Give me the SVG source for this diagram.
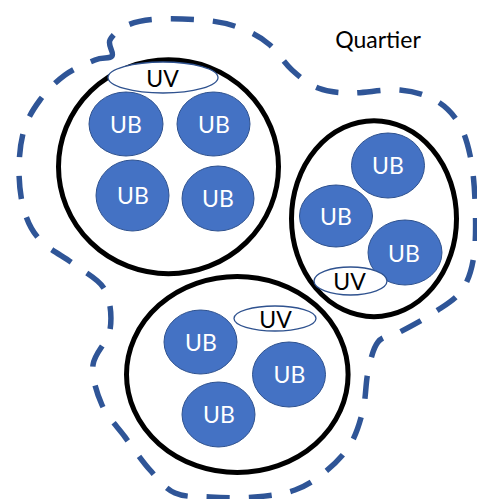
<svg xmlns="http://www.w3.org/2000/svg" width="477" height="499" viewBox="0 0 477 499">
<style>
  .bound { fill: none; stroke: #2F5597; stroke-width: 5.5; stroke-dasharray: 23 19; }
  .grp { fill: none; stroke: #000; stroke-width: 5; }
  .ub { fill: #4472C4; stroke: #2F528F; stroke-width: 1; }
  .uv { fill: #fff; stroke: #2F528F; stroke-width: 1.3; }
  .tub { font-family: Lato, "Open Sans", sans-serif; font-size: 23px; fill: #fff; text-anchor: middle; }
  .tuv { font-family: Lato, "Open Sans", sans-serif; font-size: 23px; fill: #000; text-anchor: middle; }
  .tq { font-family: Lato, "Open Sans", sans-serif; font-size: 23px; fill: #000; text-anchor: middle; }
</style>
<rect width="477" height="499" fill="#fff"/>
<g id="quartier">
  <path class="bound" d="M112,56 C114.5,52.7 107.3,45.2 110,40 S119.7,28.5 128,25 S146,19.7 160,19 S197.8,19.2 212,21 S235.3,26 245,30 S262.2,38.3 270,45 S284,62.8 292,70 S308.3,84.2 318,88 S336.3,92.7 350,93 S385.8,88.8 400,90 S425.3,94.7 435,100 S452.2,112.8 458,122 S467.2,142 470,155 S474.3,183.3 475,200 S476.2,240 474,255 S468.5,280.5 462,290 S445.3,305 435,312 S409.5,327 400,332 S383.3,335.3 378,342 S370.5,360.7 368,372 S366,397.8 363,410 S356.3,434.7 350,445 S334.2,464.5 325,472 S306.7,485.8 295,490 S269.2,495.8 255,497 S223.3,497.7 210,497 S185,497.5 175,493 S158.3,479.3 150,470 S133,447.8 125,437 S107.3,417 102,405 S91.7,377.5 93,365 S108,342.5 110,330 S110.8,300.8 105,290 S85.8,273.3 75,265 S48.5,249.2 40,240 S27.5,221.7 24,210 S19,183.3 19,170 S20.5,141.7 24,130 S33.2,109.2 40,100 S55.8,81.7 65,75 S87.2,63.2 95,60 S109.5,59.3 112,56 Z"/>
  <text class="tq" x="378" y="48">Quartier</text>
</g>
<g id="groupe1">
  <ellipse class="grp" cx="168.5" cy="166.7" rx="110" ry="107"/>
  <g id="ub1"><ellipse class="ub" cx="126" cy="124" rx="37" ry="32"/><text class="tub" x="126" y="132.5">UB</text></g>
  <g id="ub2"><ellipse class="ub" cx="213.5" cy="124" rx="36.5" ry="32"/><text class="tub" x="214" y="132.5">UB</text></g>
  <g id="ub3"><ellipse class="ub" cx="132.5" cy="195.5" rx="36.5" ry="35.5"/><text class="tub" x="133" y="204">UB</text></g>
  <g id="ub4"><ellipse class="ub" cx="218" cy="198.5" rx="36" ry="32.5"/><text class="tub" x="218" y="207">UB</text></g>
  <g id="uv1"><ellipse class="uv" cx="163" cy="77.5" rx="55" ry="15.5"/><text class="tuv" x="162.5" y="87">UV</text></g>
</g>
<g id="groupe2">
  <ellipse class="grp" cx="374" cy="218.7" rx="82.5" ry="98"/>
  <g id="ub5"><ellipse class="ub" cx="388" cy="165.5" rx="36.5" ry="32.5"/><text class="tub" x="388" y="174">UB</text></g>
  <g id="ub6"><ellipse class="ub" cx="336" cy="216" rx="36.5" ry="31"/><text class="tub" x="336" y="225">UB</text></g>
  <g id="ub7"><ellipse class="ub" cx="405" cy="252.5" rx="37" ry="32.5"/><text class="tub" x="404" y="261.5">UB</text></g>
  <g id="uv2"><ellipse class="uv" cx="350.5" cy="281" rx="36.5" ry="14"/><text class="tuv" x="349.5" y="289.5">UV</text></g>
</g>
<g id="groupe3">
  <ellipse class="grp" cx="237.3" cy="374.5" rx="110.8" ry="98"/>
  <g id="ub8"><ellipse class="ub" cx="200.5" cy="342" rx="36.5" ry="32"/><text class="tub" x="201" y="350.5">UB</text></g>
  <g id="ub9"><ellipse class="ub" cx="289" cy="374.5" rx="36.5" ry="32.5"/><text class="tub" x="289.5" y="382.5">UB</text></g>
  <g id="ub10"><ellipse class="ub" cx="218.5" cy="414.5" rx="36.5" ry="32.5"/><text class="tub" x="219" y="422.5">UB</text></g>
  <g id="uv3"><ellipse class="uv" cx="275" cy="318.5" rx="41" ry="12.5"/><text class="tuv" x="275.5" y="327.5">UV</text></g>
</g>
</svg>
